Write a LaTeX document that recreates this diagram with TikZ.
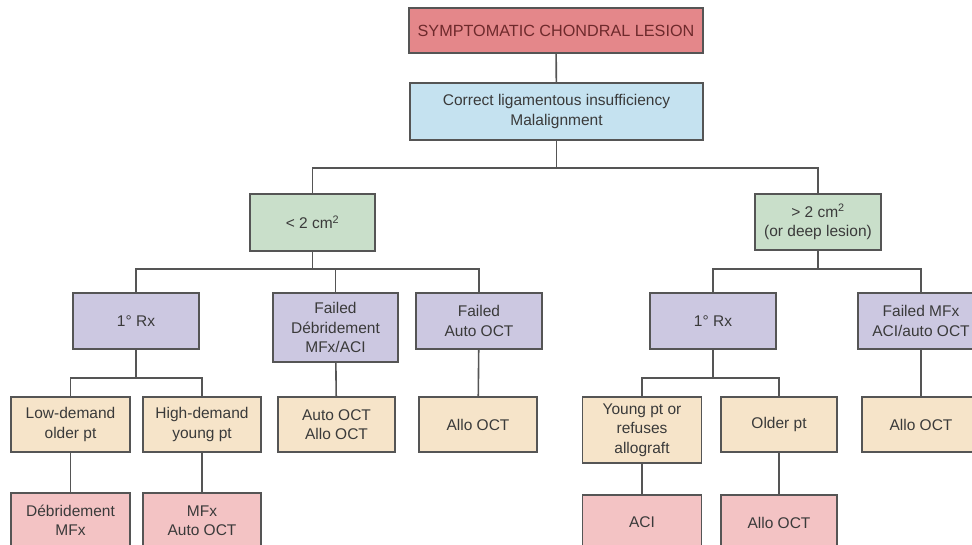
\documentclass[tikz,border=0pt]{standalone}
\usepackage{fontspec}
\setmainfont{Liberation Sans}
\definecolor{cline}{HTML}{555555}
\definecolor{ctext}{HTML}{3A3A3A}
\definecolor{cred}{HTML}{E4878A}
\definecolor{credtext}{HTML}{6E2A2C}
\definecolor{cblue}{HTML}{C5E2F0}
\definecolor{cgreen}{HTML}{C9DFCA}
\definecolor{cpurple}{HTML}{CCC8E1}
\definecolor{cbeige}{HTML}{F6E4C9}
\definecolor{cpink}{HTML}{F3C3C4}
\begin{document}
\begin{tikzpicture}[x=1pt,y=-1pt,
  box/.style={draw=cline, line width=1.3pt, align=center, inner sep=2pt,
    font=\fontsize{15.5}{19.5}\selectfont, text=ctext, anchor=center},
  conn/.style={draw=cline, line width=1.6pt},
  redbox/.style={box, fill=cred, text=credtext, font=\fontsize{16.2}{19.5}\selectfont},
  bluebox/.style={box, fill=cblue},
  greenbox/.style={box, fill=cgreen},
  purplebox/.style={box, fill=cpurple},
  beigebox/.style={box, fill=cbeige},
  pinkbox/.style={box, fill=cpink}]
\useasboundingbox (0,0) rectangle (972,545);
\clip (0,0) rectangle (972,545);
\fill[white] (0,0) rectangle (972,545);
% level 0/1
\node[redbox, minimum width=294pt, minimum height=45pt] (top) at (556,30.5) {SYMPTOMATIC CHONDRAL LESION};
\node[bluebox, minimum width=293pt, minimum height=57pt] (blue) at (556.5,111.5) {Correct ligamentous insufficiency\\Malalignment};
% level 2
\node[greenbox, minimum width=125pt, minimum height=57pt] (lg) at (312.5,222.5) {< 2 cm\textsuperscript{2}};
\node[greenbox, minimum width=126pt, minimum height=56pt] (rg) at (818,222) {> 2 cm\textsuperscript{2}\\(or deep lesion)};
% level 3
\node[purplebox, minimum width=126pt, minimum height=56pt] (rx1) at (136,321) {1° Rx};
\node[purplebox, minimum width=125pt, minimum height=69pt] (fd) at (335.5,327.5) {Failed\\Débridement\\MFx/ACI};
\node[purplebox, minimum width=126pt, minimum height=56pt] (fa) at (479,321) {Failed\\Auto OCT};
\node[purplebox, minimum width=126pt, minimum height=56pt] (rx2) at (713,321) {1° Rx};
\node[purplebox, minimum width=126pt, minimum height=56pt] (fm) at (921,321) {Failed MFx\\ACI/auto OCT};
% level 4
\node[beigebox, minimum width=119pt, minimum height=55pt] (ld) at (70.5,424.5) {Low-demand\\older pt};
\node[beigebox, minimum width=118pt, minimum height=55pt] (hd) at (202,424.5) {High-demand\\young pt};
\node[beigebox, minimum width=117pt, minimum height=55pt] (aa) at (336.5,424.5) {Auto OCT\\Allo OCT};
\node[beigebox, minimum width=118pt, minimum height=55pt] (ao1) at (478,424.5) {Allo OCT};
\node[beigebox, minimum width=119pt, minimum height=66pt] (yp) at (642,430) {Young pt or\\refuses\\allograft};
\node[beigebox, minimum width=116pt, minimum height=55pt] (op) at (779,424.5) {Older pt};
\node[beigebox, minimum width=118pt, minimum height=55pt] (ao2) at (921,424.5) {Allo OCT};
% level 5
\node[pinkbox, minimum width=119pt, minimum height=55pt] (d1) at (70.5,520.5) {Débridement\\MFx};
\node[pinkbox, minimum width=118pt, minimum height=55pt] (d2) at (202,520.5) {MFx\\Auto OCT};
\node[pinkbox, minimum width=119pt, minimum height=55pt] (aci) at (642,522.5) {ACI};
\node[pinkbox, minimum width=116pt, minimum height=55pt] (ao3) at (779,522.5) {Allo OCT};
% bar coordinates
\coordinate (b1) at (0,168);
\coordinate (b2) at (0,269);
\coordinate (b3) at (0,378);
% connectors
\draw[conn] (top) -- (blue);
\draw[conn] (blue.south) -- (blue.south |- b1);
\draw[conn] (lg.north) -- (lg.north |- b1) -| (rg.north);
\draw[conn] (lg.south) -- (lg.south |- b2);
\draw[conn] (rx1.north) -- (rx1.north |- b2) -| (fa.north);
\draw[conn] (fd.north) -- (fd.north |- b2);
\draw[conn] (rg.south) -- (rg.south |- b2);
\draw[conn] (rx2.north) -- (rx2.north |- b2) -| (fm.north);
\draw[conn] (rx1.south) -- (rx1.south |- b3);
\draw[conn] (ld.north) -- (ld.north |- b3) -| (hd.north);
\draw[conn] (rx2.south) -- (rx2.south |- b3);
\draw[conn] (yp.north) -- (yp.north |- b3) -| (op.north);
\draw[conn] (fd) -- (aa);
\draw[conn] (fa) -- (ao1);
\draw[conn] (fm) -- (ao2);
\draw[conn] (ld) -- (d1);
\draw[conn] (hd) -- (d2);
\draw[conn] (yp) -- (aci);
\draw[conn] (op) -- (ao3);
\end{tikzpicture}
\end{document}
